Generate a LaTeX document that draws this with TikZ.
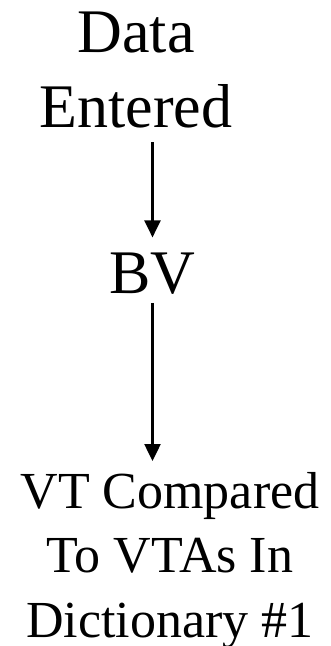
\documentclass[tikz,border=0pt]{standalone}
\usepackage{fontspec}
\setmainfont{Liberation Serif}
\usepackage{tikz}
\usetikzlibrary{arrows.meta}
\usetikzlibrary{positioning}
\tikzstyle{lbl}=[inner sep=0,outer sep=0,align=center,font=\fontsize{62}{75}\selectfont]
\tikzstyle{lblsmall}=[inner sep=0,outer sep=0,align=center,font=\fontsize{52}{64.5}\selectfont]
\tikzstyle{flow}=[line width=2.5pt,-{Triangle[width=16pt,length=17pt]}]
\begin{document}
\begin{tikzpicture}[x=1pt,y=-1pt]
\useasboundingbox (0,0) rectangle (330,646);
\node[lbl,anchor=north] (data) at (136,12) {Data\\Entered};
\node[lbl,anchor=base] (bv) at (152.5,293) {BV};
\node[lblsmall,anchor=north] (cmp) at (170,472) {VT Compared\\To VTAs In\\Dictionary \#1};
\draw[flow,shorten <=14pt,shorten >=15pt] (data.south -| bv) -- (bv.north);
\draw[flow,shorten <=9pt,shorten >=11pt] (bv.south) -- (cmp.north -| bv);
\end{tikzpicture}
\end{document}
